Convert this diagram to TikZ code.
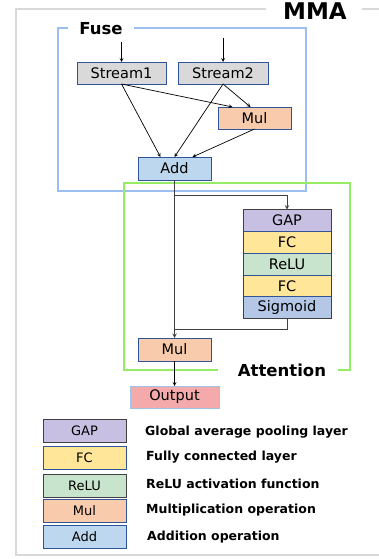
\documentclass[tikz,border=0pt]{standalone}
\usepackage{fontspec}
\setmainfont{DejaVu Sans}
\usepackage{tikz}
\usetikzlibrary{positioning}

\definecolor{gapcol}{RGB}{200,192,226}
\definecolor{fccol}{RGB}{255,230,153}
\definecolor{relucol}{RGB}{200,228,204}
\definecolor{sigcol}{RGB}{180,199,231}
\definecolor{mulcol}{RGB}{248,203,173}
\definecolor{addcol}{RGB}{189,215,238}
\definecolor{outcol}{RGB}{244,170,170}
\definecolor{streamcol}{RGB}{217,217,217}
\definecolor{edgeblue}{RGB}{47,85,151}
\definecolor{outedge}{RGB}{157,195,230}
\definecolor{fuseblue}{RGB}{157,190,240}
\definecolor{attgreen}{RGB}{150,236,100}
\definecolor{framegray}{RGB}{217,217,217}
\definecolor{darkline}{RGB}{64,64,64}

\begin{document}
\begin{tikzpicture}[x=1pt,y=-1pt,>=stealth,
  box/.style={draw=edgeblue,line width=0.8pt,inner sep=0pt,outer sep=0pt,minimum width=73,minimum height=22,font=\fontsize{14.5}{16}\selectfont},
  layer/.style={box,minimum width=88,minimum height=21.8},
  keybox/.style={box,minimum width=83,minimum height=23,font=\fontsize{13}{15}\selectfont},
  keytext/.style={anchor=west,inner sep=0pt,font=\fontsize{12.5}{14}\selectfont\bfseries},
  title/.style={inner sep=0pt,font=\fontsize{16.5}{18}\selectfont\bfseries},
  link/.style={->,line width=0.7pt}]
\useasboundingbox (0,0) rectangle (378,559);

% outer frame
\draw[framegray,line width=2pt] (266,9) -- (16,9) -- (16,555) -- (380,555);
\draw[framegray,line width=2pt] (362,9) -- (380,9);
\node[title,font=\fontsize{23}{26}\selectfont\bfseries] (mma) at (315,11) {MMA};

% fuse part
\draw[fuseblue,line width=1.5pt] (68,28) -- (58,28) -- (58,191) -- (306,191) -- (306,28) -- (134,28);
\node[title] (fuse) at (101,29) {Fuse};

\coordinate (in1) at (121.5,42);
\coordinate (in2) at (223,38);
\node[box,fill=streamcol,minimum width=89] (s1) at (121.5,73) {Stream1};
\node[box,fill=streamcol,minimum width=90] (s2) at (223,73) {Stream2};
\node[box,fill=mulcol] (mul1) at (254.5,118) {Mul};
\node[box,fill=addcol,minimum height=23] (add) at (174.5,168.5) {Add};

\draw[link] (in1) -- (s1.north);
\draw[link] (in2) -- (s2.north);
\draw[link] (s1.south) -- ([xshift=-14]add.north);
\draw[link] (s1.south) -- ([xshift=-22]mul1.north);
\draw[link] (s2.south) -- (add.north);
\draw[link] (s2.south) -- ([xshift=-4]mul1.north);
\draw[link] (mul1.south) -- ([xshift=18]add.north);

% attention part
\draw[attgreen,line width=1.5pt] (218,370) -- (124,370) -- (124,183) -- (350,183) -- (350,370) -- (338,370);
\node[title] (att) at (282,370) {Attention};

\node[layer,fill=gapcol] (gap) at (287,220.5) {GAP};
\node[layer,fill=fccol,below=0pt of gap] (fc1) {FC};
\node[layer,fill=relucol,below=0pt of fc1] (relu) {ReLU};
\node[layer,fill=fccol,below=0pt of relu] (fc2) {FC};
\node[layer,fill=sigcol,below=0pt of fc2] (sig) {Sigmoid};
\draw[darkline,line width=1pt] (gap.north west) rectangle (sig.south east);

\node[box,fill=mulcol,minimum height=23] (mul2) at (174.5,349.5) {Mul};
\node[box,draw=outedge,fill=outcol,minimum width=89] (out) at (174.5,397) {Output};

\coordinate (split) at (174.5,195);
\coordinate (join) at (174.5,329);
\draw[link,darkline,line width=1pt] (add.south) -- (mul2.north);
\draw[link,darkline,line width=1pt] (split) -| (gap.north);
\draw[darkline,line width=1pt] (sig.south) |- (join);
\draw[link] (mul2.south) -- (out.north);

% legend
\node[keybox,draw=darkline,fill=gapcol] (kgap) at (84.5,431) {GAP};
\node[keybox,fill=fccol] (kfc) at (84.5,457.5) {FC};
\node[keybox,draw=darkline,fill=relucol] (krelu) at (84.5,485.5) {ReLU};
\node[keybox,fill=mulcol] (kmul) at (84.5,511) {Mul};
\node[keybox,fill=addcol] (kadd) at (84.5,536.5) {Add};

\node[keytext] (tgap) at (145,432) {Global average pooling layer};
\node[keytext] (tfc) at (146,457) {Fully connected layer};
\node[keytext] (trelu) at (146,484) {ReLU activation function};
\node[keytext] (tmul) at (146,510) {Multiplication operation};
\node[keytext] (tadd) at (147,537) {Addition operation};
\end{tikzpicture}
\end{document}
